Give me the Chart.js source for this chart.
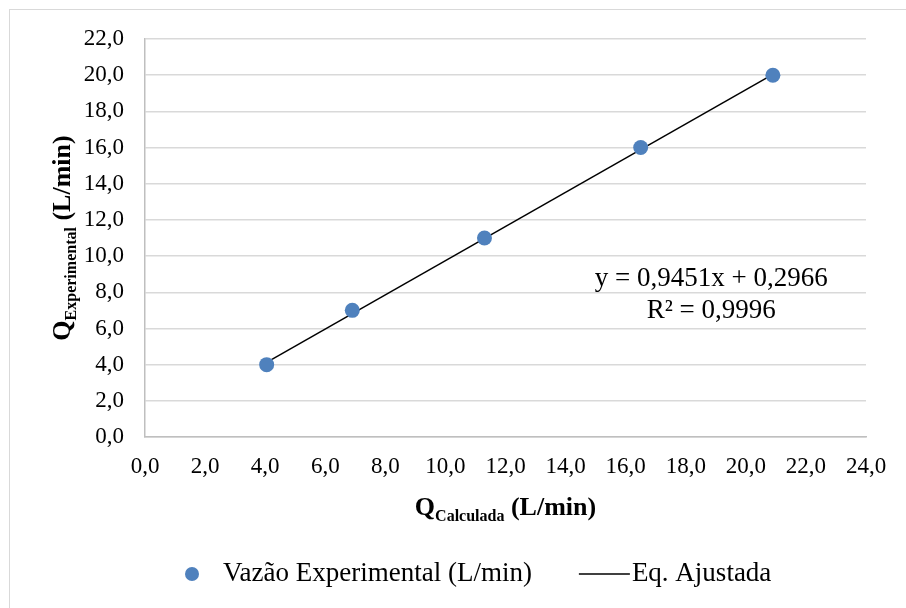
<!DOCTYPE html>
<html lang="pt">
<head>
    <meta charset="UTF-8">
    <title>Vazão Experimental x Calculada</title>
    <script src="https://cdn.jsdelivr.net/npm/chart.js"></script>
    <style>
        body { margin: 0; background: #fff; }
        #wrap { width: 906px; height: 608px; }
    </style>
</head>
<body>
    <div id="wrap"><canvas id="chart" width="906" height="608"></canvas></div>
    <script>
        // Dados
        const qCalculada = [4.05, 6.9, 11.3, 16.5, 20.9];
        const qExperimental = [4.0, 7.0, 11.0, 16.0, 20.0];
        const trendX = [4.05, 20.9];
        const trendY = [4.12, 20.05];
        const eqText = ['y = 0,9451x + 0,2966', 'R² = 0,9996'];
        const legendNames = ['Vazão Experimental (L/min)', 'Eq. Ajustada'];

        const serif = "'Liberation Serif', 'Times New Roman', serif";
        const blue = '#4f81bd';
        const fmt = v => v.toFixed(1).replace('.', ',');

        // titulos com subscrito, equacao, legenda e moldura
        const extras = {
            id: 'extras',
            afterDraw(chart) {
                const ctx = chart.ctx;
                const area = chart.chartArea;
                const sx = chart.scales.x, sy = chart.scales.y;
                ctx.save();

                // moldura
                ctx.strokeStyle = '#d9d9d9';
                ctx.lineWidth = 1;
                ctx.strokeRect(9.5, 9.5, 1000, 700);

                ctx.fillStyle = '#000';
                ctx.textBaseline = 'alphabetic';

                // titulo do eixo x
                const big = 'bold 26px ' + serif;
                const small = 'bold 16px ' + serif;
                function titleParts(parts) {
                    let w = 0;
                    parts.forEach(p => { ctx.font = p.f; p.w = ctx.measureText(p.t).width; w += p.w; });
                    return w;
                }
                const xParts = [{t: 'Q', f: big, dy: 0}, {t: 'Calculada', f: small, dy: 6}, {t: ' (L/min)', f: big, dy: 0}];
                let w = titleParts(xParts);
                let x = (area.left + area.right) / 2 - w / 2;
                xParts.forEach(p => { ctx.font = p.f; ctx.fillText(p.t, x, 515 + p.dy); x += p.w; });

                // titulo do eixo y
                const yParts = [{t: 'Q', f: big, dy: 0}, {t: 'Experimental', f: small, dy: 6}, {t: ' (L/min)', f: big, dy: 0}];
                w = titleParts(yParts);
                ctx.save();
                ctx.translate(70, 238);
                ctx.rotate(-Math.PI / 2);
                x = -w / 2;
                yParts.forEach(p => { ctx.font = p.f; ctx.fillText(p.t, x, p.dy); x += p.w; });
                ctx.restore();

                // equacao da reta
                ctx.font = '27px ' + serif;
                ctx.textAlign = 'center';
                ctx.textBaseline = 'middle';
                const ex = sx.getPixelForValue(18.85);
                const ey = sy.getPixelForValue(8.75);
                ctx.fillText(eqText[0], ex, ey);
                ctx.fillText(eqText[1], ex, ey + 32);

                // legenda
                ctx.font = '27px ' + serif;
                ctx.textAlign = 'left';
                const ly = 574;
                let lx = 192;
                ctx.fillStyle = blue;
                ctx.beginPath();
                ctx.arc(lx, ly, 7, 0, Math.PI * 2);
                ctx.fill();
                ctx.fillStyle = '#000';
                lx += 31;
                ctx.fillText(legendNames[0], lx, ly);
                lx += ctx.measureText(legendNames[0]).width + 47;
                ctx.strokeStyle = '#000';
                ctx.lineWidth = 1.5;
                ctx.beginPath();
                ctx.moveTo(lx, ly);
                ctx.lineTo(lx + 51, ly);
                ctx.stroke();
                ctx.fillText(legendNames[1], lx + 53, ly);

                ctx.restore();
            }
        };

        new Chart(document.getElementById('chart'), {
            type: 'scatter',
            data: {
                datasets: [{
                    label: legendNames[0],
                    data: qCalculada.map((v, i) => ({x: v, y: qExperimental[i]})),
                    backgroundColor: blue,
                    borderColor: blue,
                    pointRadius: 7.5,
                    pointHoverRadius: 7.5,
                    borderWidth: 0
                }, {
                    type: 'line',
                    label: legendNames[1],
                    data: trendX.map((v, i) => ({x: v, y: trendY[i]})),
                    borderColor: '#000',
                    borderWidth: 1.5,
                    pointRadius: 0,
                    fill: false
                }]
            },
            options: {
                responsive: false,
                animation: false,
                layout: { padding: { left: 0, right: 40, top: 39, bottom: 0 } },
                plugins: {
                    legend: { display: false },
                    tooltip: { enabled: false }
                },
                scales: {
                    x: {
                        type: 'linear',
                        min: 0, max: 24,
                        ticks: { stepSize: 2, padding: 16, color: '#000', font: { family: serif, size: 23 }, callback: fmt },
                        grid: { display: false, drawTicks: false },
                        border: { color: '#bfbfbf', width: 1.5 },
                        afterFit: s => { s.height = 608 - 437; }
                    },
                    y: {
                        min: 0, max: 22,
                        ticks: { stepSize: 2, padding: 21, color: '#000', font: { family: serif, size: 23 }, callback: fmt },
                        grid: { color: '#d9d9d9', lineWidth: 1.5, drawTicks: false },
                        border: { color: '#bfbfbf', width: 1.5 },
                        afterFit: s => { s.width = 145; }
                    }
                }
            },
            plugins: [extras]
        });
    </script>
</body>
</html>
